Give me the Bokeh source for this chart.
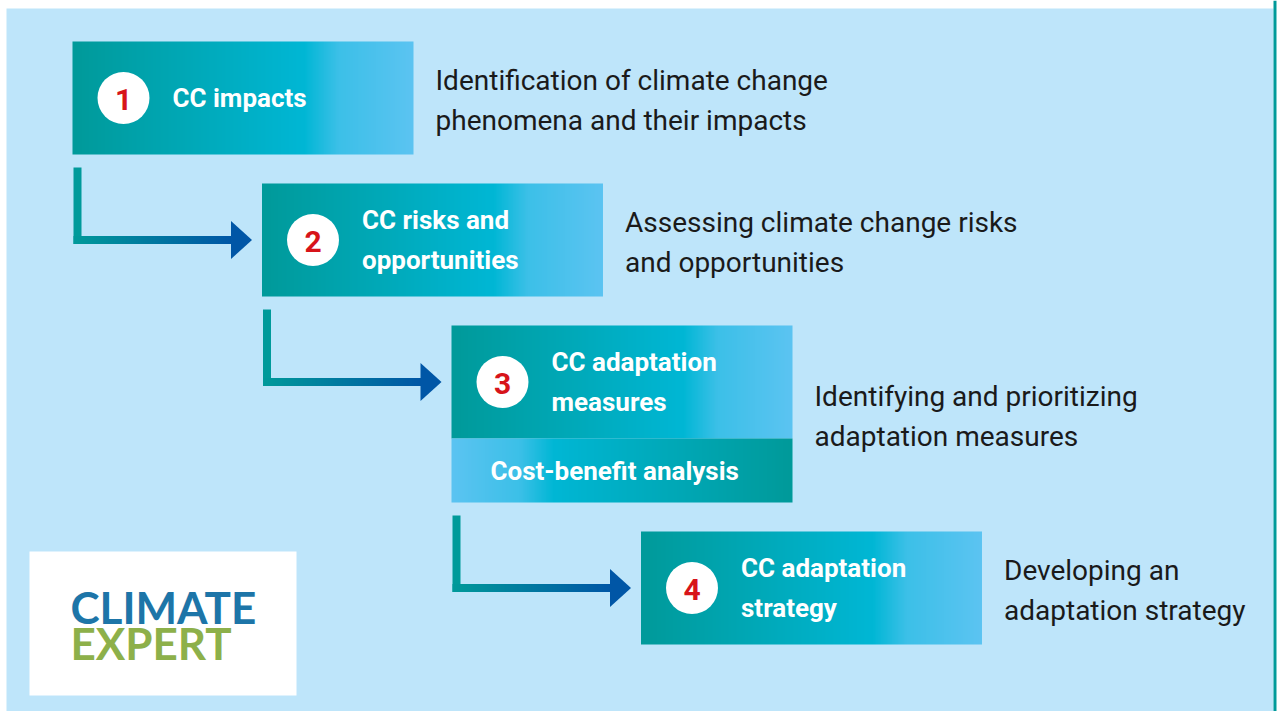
import numpy as np
from bokeh.plotting import figure
from bokeh.models import Range1d, ColumnDataSource
from bokeh.core.properties import value
from bokeh.embed import file_html
from bokeh.resources import INLINE

# ---------------- content ----------------
step_numbers = ["1", "2", "3", "4"]
step_titles = [
    ["CC impacts"],
    ["CC risks and", "opportunities"],
    ["CC adaptation", "measures"],
    ["CC adaptation", "strategy"],
]
step_descriptions = [
    ["Identification of climate change", "phenomena and their impacts"],
    ["Assessing climate change risks", "and opportunities"],
    ["Identifying and prioritizing", "adaptation measures"],
    ["Developing an", "adaptation strategy"],
]
sub_band_step = 2
sub_band_label = "Cost-benefit analysis"
logo_lines = ["CLIMATE", "EXPERT"]

# ---------------- style / layout ----------------
BG = "#BEE5FA"
TEAL = (0, 154, 154)
CYAN = (0, 183, 213)
MIDBLUE = (60, 192, 232)
LIGHT = (92, 196, 242)
ARROW_BLUE = (0, 86, 166)
NUM_RED = "#D7141A"
TXT = "#1A1A1A"
FONT = "Roboto"

W, H = 1277, 711

BOX_X0, BOX_DX, BOX_W, BOX_H = 72, 189.5, 341, 113
TOP0, GAP, BAND_H = 41, 29, 64
LINE_GAP = 40


def sy(y):
    """screen y -> data y"""
    return H - y


def rgba(c):
    return "#%02x%02x%02x" % c


def gradient(stops, n=400):
    pos = [s[0] for s in stops]
    xs = np.linspace(0, 1, n)
    img = np.empty((1, n), dtype=np.uint32)
    v = img.view(dtype=np.uint8).reshape((1, n, 4))
    for k in range(3):
        v[0, :, k] = np.interp(xs, pos, [s[1][k] for s in stops]).astype(np.uint8)
    v[0, :, 3] = 255
    return img


box_stops = [(0, TEAL), (0.68, CYAN), (0.78, MIDBLUE), (1, LIGHT)]
band_stops = [(0, LIGHT), (0.2, MIDBLUE), (0.3, CYAN), (1, TEAL)]
arrow_stops = [(0, TEAL), (1, ARROW_BLUE)]

p = figure(width=W, height=H, x_range=Range1d(0, W), y_range=Range1d(0, H),
           toolbar_location=None, output_backend="svg", min_border=0)
p.axis.visible = False
p.grid.visible = False
p.outline_line_color = None
p.background_fill_color = "white"
p.border_fill_color = "white"

# panel background and right edge rule
p.quad(left=[6], right=[1273], top=[sy(8)], bottom=[0], fill_color=BG, line_color=None)
p.quad(left=[1273], right=[1276], top=[sy(0)], bottom=[0], fill_color=rgba(TEAL), line_color=None)

# layout of boxes
tops, bottoms, lefts = [], [], []
t = TOP0
for i in range(len(step_numbers)):
    left = BOX_X0 + BOX_DX * i
    b = t + BOX_H + (BAND_H if i == sub_band_step else 0)
    tops.append(t); bottoms.append(b); lefts.append(left)
    t = b + GAP

box_img = gradient(box_stops)
band_img = gradient(band_stops)
arrow_img = gradient(arrow_stops)

title_x, title_y, title_t = [], [], []
desc_x, desc_y, desc_t = [], [], []
circ_x, circ_y = [], []

for i, num in enumerate(step_numbers):
    left, top, bot = lefts[i], tops[i], bottoms[i]
    main_bot = top + BOX_H
    p.image_rgba(image=[box_img], x=left, y=sy(main_bot), dw=BOX_W, dh=BOX_H)
    if i == sub_band_step:
        p.image_rgba(image=[band_img], x=left, y=sy(bot), dw=BOX_W, dh=BAND_H)
        p.text(x=[left + 39], y=[sy(main_bot + BAND_H / 2)], text=[sub_band_label],
               text_color="white", text_font=value(FONT), text_font_style="bold",
               text_font_size="26px", text_baseline="middle")
    cy = top + BOX_H / 2
    circ_x.append(left + 51); circ_y.append(sy(cy))
    n = len(step_titles[i])
    for j, line in enumerate(step_titles[i]):
        title_x.append(left + 100)
        title_y.append(sy(cy + (j - (n - 1) / 2) * LINE_GAP))
        title_t.append(line)
    dcy = (top + bot) / 2 + 2
    m = len(step_descriptions[i])
    for j, line in enumerate(step_descriptions[i]):
        desc_x.append(left + BOX_W + 22)
        desc_y.append(sy(dcy + (j - (m - 1) / 2) * LINE_GAP))
        desc_t.append(line)

    # connector arrow to next box
    if i + 1 < len(step_numbers):
        ax = left + 1
        ay0 = bot + 13
        ay = tops[i + 1] + BOX_H / 2
        tip = lefts[i + 1] - 10
        head = 21
        p.quad(left=[ax], right=[ax + 8], top=[sy(ay0)], bottom=[sy(ay + 4)],
               fill_color=rgba(TEAL), line_color=None)
        p.image_rgba(image=[arrow_img], x=ax, y=sy(ay + 4), dw=tip - head - ax + 1, dh=8)
        p.patch(x=[tip - head, tip, tip - head], y=[sy(ay - 19), sy(ay), sy(ay + 19)],
                fill_color=rgba(ARROW_BLUE), line_color=None)

p.scatter(x=circ_x, y=circ_y, size=52, marker="circle", fill_color="white", line_color=None)
p.text(x=circ_x, y=[y - 1 for y in circ_y], text=step_numbers, text_color=NUM_RED,
       text_font=value(FONT), text_font_style="bold", text_font_size="30px",
       text_align="center", text_baseline="middle")

p.text(source=ColumnDataSource(dict(x=title_x, y=title_y, t=title_t)), x="x", y="y", text="t",
       text_color="white", text_font=value(FONT), text_font_style="bold",
       text_font_size="26px", text_baseline="middle")
p.text(source=ColumnDataSource(dict(x=desc_x, y=desc_y, t=desc_t)), x="x", y="y", text="t",
       text_color=TXT, text_font=value(FONT), text_font_size="28px", text_baseline="middle")

# logo
p.quad(left=[29], right=[296], top=[sy(551)], bottom=[sy(695)], fill_color="white", line_color=None)
p.text(x=[70, 70], y=[sy(606), sy(642)], text=logo_lines, text_color=["#1D75A8", "#8DB04A"],
       text_font=value("Lato"), text_font_style="bold", text_font_size="44px",
       text_baseline="middle")

open("out.html", "w").write(file_html(p, INLINE))
